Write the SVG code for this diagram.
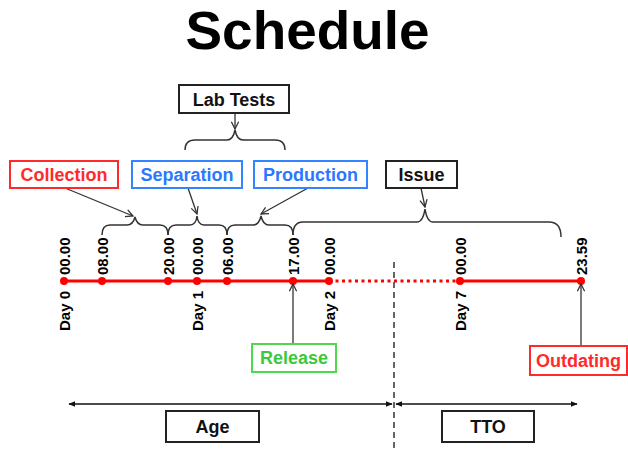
<svg xmlns="http://www.w3.org/2000/svg" width="628" height="450" viewBox="0 0 628 450">
<defs>
<style>
text{font-family:"Liberation Sans",Arial,sans-serif;font-weight:bold}
.title{font-size:53px;fill:#000}
.lbl{font-size:18px;text-anchor:middle}
.tick{font-size:15px;fill:#000}
.box{fill:#fff;stroke-width:2}
.conn{stroke:#333;stroke-width:1.3;fill:none}
.brace{stroke:#333;stroke-width:1.5;fill:none}
.red{stroke:#ff0000;stroke-width:3;fill:none}
.dot{fill:#ff0000}
</style>
<marker id="open" viewBox="0 0 10 10" refX="9" refY="5" markerWidth="9" markerHeight="9" markerUnits="userSpaceOnUse" orient="auto">
<path d="M1,1 L9,5 L1,9" fill="none" stroke="#333" stroke-width="1.4"/>
</marker>
<marker id="solid" viewBox="0 0 10 10" refX="9" refY="5" markerWidth="7" markerHeight="7" markerUnits="userSpaceOnUse" orient="auto-start-reverse">
<path d="M0,1 L10,5 L0,9 Z" fill="#111"/>
</marker>
</defs>
<rect width="628" height="450" fill="#fff"/>
<text class="title" x="307.5" y="49" text-anchor="middle" textLength="244" lengthAdjust="spacingAndGlyphs">Schedule</text>

<g id="timeline">
<path class="red" d="M64,281 H329"/>
<path class="red" d="M329,281 H460" stroke-dasharray="3,3.5"/>
<path class="red" d="M460,281 H581"/>
<circle class="dot" cx="64" cy="281" r="4"/>
<circle class="dot" cx="102" cy="281" r="4"/>
<circle class="dot" cx="168" cy="281" r="4"/>
<circle class="dot" cx="197" cy="281" r="4"/>
<circle class="dot" cx="227" cy="281" r="4"/>
<circle class="dot" cx="293" cy="281" r="4"/>
<circle class="dot" cx="329" cy="281" r="4"/>
<circle class="dot" cx="460" cy="281" r="4"/>
<circle class="dot" cx="581" cy="281" r="4"/>
<text class="tick" transform="translate(69.5,275) rotate(-90)">00.00</text>
<text class="tick" transform="translate(107.5,275) rotate(-90)">08.00</text>
<text class="tick" transform="translate(173.5,275) rotate(-90)">20.00</text>
<text class="tick" transform="translate(202.5,275) rotate(-90)">00.00</text>
<text class="tick" transform="translate(232.5,275) rotate(-90)">06.00</text>
<text class="tick" transform="translate(298.5,275) rotate(-90)">17.00</text>
<text class="tick" transform="translate(334.5,275) rotate(-90)">00.00</text>
<text class="tick" transform="translate(465.5,275) rotate(-90)">00.00</text>
<text class="tick" transform="translate(586.5,275) rotate(-90)">23.59</text>
<text class="tick" transform="translate(69.5,331) rotate(-90)">Day 0</text>
<text class="tick" transform="translate(202.5,331) rotate(-90)">Day 1</text>
<text class="tick" transform="translate(334.5,331) rotate(-90)">Day 2</text>
<text class="tick" transform="translate(465.5,331) rotate(-90)">Day 7</text>
</g>

<g id="braces">
<path class="brace" d="M102,235 Q102,225 110,225 H127 Q133,225 135,217 Q137,225 143,225 H160 Q168,225 168,235"/>
<path class="brace" d="M168,235 Q168,225 176,225 H190 Q196,225 197,216 Q198,225 204,225 H219 Q227,225 227,235"/>
<path class="brace" d="M227,235 Q227,225 235,225 H253 Q259,225 261,216 Q263,225 269,225 H285 Q293,225 293,235"/>
<path class="brace" d="M293,235 Q293,222 303,222 H417 Q423,222 425,209 Q427,222 433,222 H549 Q561,222 561,237"/>
<path class="brace" d="M185,150 Q185,140 195,140 H227 Q233,140 235,130 Q237,140 243,140 H275 Q285,140 285,150"/>
</g>

<g id="separator">
<path d="M394,262 V450" stroke="#333" stroke-width="1.5" stroke-dasharray="6,4"/>
</g>

<g id="connectors">
<path class="conn" marker-end="url(#open)" d="M235,113 L235,129"/>
<path class="conn" marker-end="url(#open)" d="M65,188 L133,216"/>
<path class="conn" marker-end="url(#open)" d="M188,188 L197,214"/>
<path class="conn" marker-end="url(#open)" d="M308,188 L261,214"/>
<path class="conn" marker-end="url(#open)" d="M421,188 L425,207"/>
<path class="conn" marker-end="url(#open)" d="M293,344 L293,284"/>
<path class="conn" marker-end="url(#open)" d="M581,346 L581,284"/>
<path d="M69,404 H392" stroke="#111" stroke-width="1.5" marker-start="url(#solid)" marker-end="url(#solid)"/>
<path d="M396,404 H577" stroke="#111" stroke-width="1.5" marker-start="url(#solid)" marker-end="url(#solid)"/>
</g>

<g id="lab-tests">
<rect class="box" x="179" y="85" width="110" height="28" stroke="#222"/>
<text class="lbl" x="234" y="105.5" fill="#111">Lab Tests</text>
</g>
<g id="collection">
<rect class="box" x="10" y="161" width="108" height="27" stroke="#ff2a2a"/>
<text class="lbl" x="64" y="180.5" fill="#ff2a2a">Collection</text>
</g>
<g id="separation">
<rect class="box" x="132" y="161" width="110" height="27" stroke="#3385ff"/>
<text class="lbl" x="187" y="180.5" fill="#2a78ff">Separation</text>
</g>
<g id="production">
<rect class="box" x="254" y="161" width="113" height="27" stroke="#3385ff"/>
<text class="lbl" x="310.5" y="180.5" fill="#2a78ff">Production</text>
</g>
<g id="issue">
<rect class="box" x="386" y="161" width="71" height="27" stroke="#222"/>
<text class="lbl" x="421.5" y="180.5" fill="#111">Issue</text>
</g>
<g id="release">
<rect class="box" x="252" y="344" width="84" height="28" stroke="#4cd94c"/>
<text class="lbl" x="294" y="364" fill="#3cc83c">Release</text>
</g>
<g id="outdating">
<rect class="box" x="530" y="346" width="97" height="29" stroke="#ff2a2a"/>
<text class="lbl" x="578.5" y="367" fill="#ff2a2a">Outdating</text>
</g>
<g id="age">
<rect class="box" x="166" y="411" width="93" height="31" stroke="#222"/>
<text class="lbl" x="212.5" y="433" fill="#111">Age</text>
</g>
<g id="tto">
<rect class="box" x="442" y="411" width="92" height="31" stroke="#222"/>
<text class="lbl" x="488" y="433" fill="#111">TTO</text>
</g>
</svg>
